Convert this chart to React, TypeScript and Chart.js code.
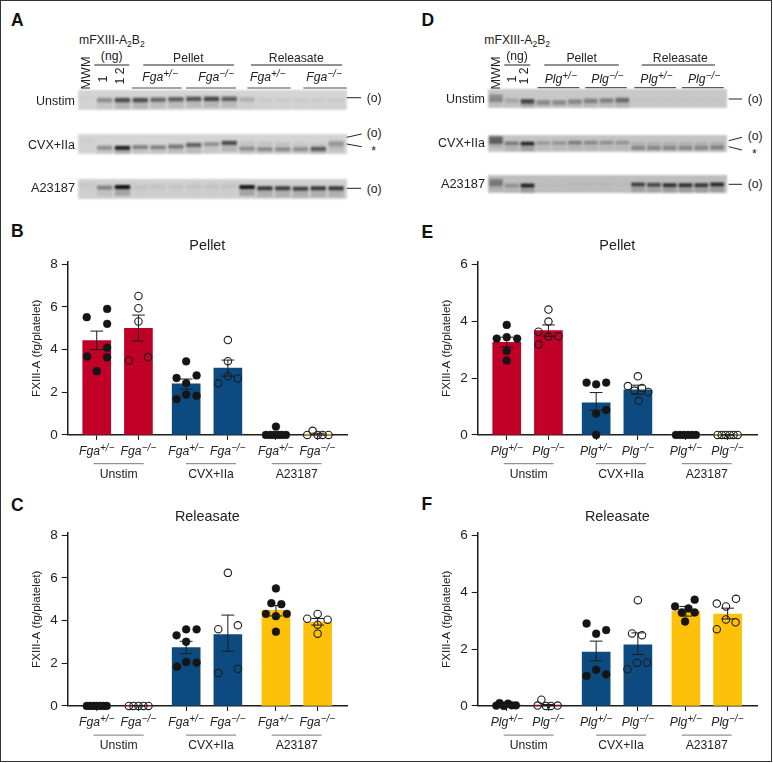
import React, { useEffect, useRef } from "react";
import { Chart, registerables } from "chart.js";

Chart.register(...registerables);

const FONT = "'Liberation Sans', Arial, sans-serif";
const RED = "#C00026";
const BLUE = "#0C4A80";
const YELLOW = "#FCC108";
const INK = "#1c1c1c";

/* ---------- bar panels ---------- */
const slots = [1, 2, 3.144, 4.144, 5.296, 6.296];
const groupLabels = ["Unstim", "CVX+IIa", "A23187"];

const bMeans = [4.43, 5.0, 2.39, 3.14, 0.06, 0.04];
const bLow = [4.0, 4.4, 2.14, 2.76, 0, 0];
const bHigh = [4.87, 5.62, 2.62, 3.51, 0.12, 0.08];
const bDots: number[][][] = [
  [[-0.24, 5.52], [0.25, 5.91], [0.25, 5.21], [0.25, 4.09], [-0.23, 3.68], [0.25, 3.64], [0, 2.99]],
  [[0, 6.52], [0, 5.94], [0, 5.32], [-0.23, 3.49], [0.23, 3.65]],
  [[0, 3.45], [-0.23, 2.67], [0.25, 2.79], [0, 2.43], [0, 1.89], [0.25, 1.84], [-0.23, 1.68]],
  [[0, 4.45], [0, 3.46], [-0.23, 2.42], [0, 2.75], [0.24, 2.65]],
  [[0, 0.39], [-0.24, 0], [-0.14, 0], [-0.05, 0], [0.05, 0], [0.14, 0], [0.24, 0]],
  [[-0.12, 0.19], [-0.25, 0], [0, 0], [0.12, 0], [0.26, 0]],
];

const cMeans = [0.02, 0.01, 2.73, 3.34, 4.48, 3.92];
const cLow = [0, 0, 2.45, 2.56, 4.22, 3.79];
const cHigh = [0.03, 0.02, 3.03, 4.26, 4.71, 4.1];
const cDots: number[][][] = [
  [[-0.24, 0], [-0.16, 0], [-0.08, 0], [0, 0], [0.08, 0], [0.16, 0], [0.24, 0]],
  [[-0.23, 0], [-0.12, 0], [0, 0], [0.12, 0], [0.24, 0]],
  [[0, 3.59], [0.25, 3.59], [-0.23, 3.31], [0, 3.01], [0, 2.06], [0.25, 2.03], [-0.22, 1.84]],
  [[0, 6.24], [-0.23, 3.6], [0.24, 3.78], [-0.23, 1.54], [0.24, 1.73]],
  [[0, 5.51], [-0.11, 4.82], [0.13, 4.77], [-0.24, 4.32], [0, 4.21], [0.26, 4.32], [0, 3.48]],
  [[0, 4.31], [-0.25, 4.09], [0.24, 4.04], [0, 3.81], [0, 3.39]],
];

const eMeans = [3.26, 3.67, 1.13, 1.59, 0.03, 0.02];
const eLow = [3.1, 3.47, 0.87, 1.43, 0, 0];
const eHigh = [3.44, 3.87, 1.49, 1.75, 0, 0];
const eDots: number[][][] = [
  [[0, 3.87], [-0.24, 3.39], [0, 3.44], [0.25, 3.39], [0, 2.96], [0, 2.62]],
  [[0, 4.41], [0, 3.99], [-0.24, 3.63], [0, 3.46], [0.24, 3.47], [-0.24, 3.18]],
  [[-0.23, 1.84], [0, 1.78], [0.24, 1.84], [0.24, 0.88], [0, 0.75], [0, 0]],
  [[0, 2.06], [-0.24, 1.72], [0.1, 1.65], [-0.08, 1.56], [0.25, 1.51], [0.02, 1.2]],
  [[-0.24, 0], [-0.14, 0], [-0.05, 0], [0.05, 0], [0.14, 0], [0.24, 0]],
  [[-0.24, 0], [-0.14, 0], [-0.05, 0], [0.05, 0], [0.14, 0], [0.24, 0]],
];

const fMeans = [0.03, 0.03, 1.89, 2.15, 3.33, 3.23];
const fLow = [0.01, 0.01, 1.59, 1.81, 3.16, 3.06];
const fHigh = [0.05, 0.05, 2.28, 2.57, 3.5, 3.44];
const fDots: number[][][] = [
  [[-0.25, 0.01], [-0.17, 0.1], [-0.07, 0], [0.03, 0.08], [0.12, 0.02], [0.22, 0.02]],
  [[-0.17, 0.22], [-0.26, 0.01], [-0.06, 0], [0.06, 0], [0.22, 0.01]],
  [[-0.23, 2.9], [0, 2.54], [0.24, 2.67], [-0.23, 1.06], [0, 1.27], [0.24, 1.11]],
  [[0, 3.72], [-0.14, 2.55], [0.1, 2.49], [-0.25, 1.29], [-0.02, 1.52], [0.22, 1.52]],
  [[-0.26, 3.5], [0.21, 3.74], [0.06, 3.43], [-0.1, 3.29], [0.21, 3.29], [-0.02, 2.97]],
  [[-0.26, 3.6], [0.2, 3.77], [-0.04, 3.5], [-0.04, 3.04], [0.19, 2.94], [-0.26, 2.7]],
];

/* ---------- blots: relative band darkness per lane ---------- */
const lanes = ["MWM", "1", "12", "p1", "p2", "p3", "p4", "p5", "p6", "r1", "r2", "r3", "r4", "r5", "r6"];

const aUnstimDark = [0.02, 0.32, 0.66, 0.66, 0.5, 0.55, 0.6, 0.68, 0.56, 0.16, 0.04, 0.04, 0.04, 0.04, 0.04];
const aUnstimPos = [0.4, 0.5, 0.5, 0.5, 0.48, 0.46, 0.44, 0.44, 0.44, 0.46, 0.5, 0.5, 0.5, 0.5, 0.5];
const aCvxDark = [0.03, 0.32, 0.9, 0.38, 0.38, 0.44, 0.56, 0.3, 0.68, 0.08, 0.08, 0.08, 0.06, 0.06, 0.24];
const aCvxPos = [0.35, 0.68, 0.69, 0.65, 0.66, 0.62, 0.54, 0.5, 0.44, 0.46, 0.48, 0.5, 0.52, 0.54, 0.44];
const aCvxLowDark = [0, 0, 0, 0, 0, 0, 0, 0, 0, 0.32, 0.32, 0.32, 0.3, 0.58, 0.14];
const aCvxLowPos = [0.7, 0.7, 0.7, 0.7, 0.7, 0.7, 0.7, 0.7, 0.7, 0.72, 0.75, 0.75, 0.75, 0.74, 0.58];
const aIonoDark = [0.04, 0.38, 0.98, 0.06, 0.06, 0.06, 0.06, 0.06, 0.06, 0.95, 0.76, 0.72, 0.72, 0.76, 0.76];
const aIonoPos = [0.3, 0.42, 0.4, 0.4, 0.38, 0.38, 0.36, 0.36, 0.36, 0.4, 0.46, 0.46, 0.48, 0.46, 0.46];

const dUnstimDark = [0, 0.16, 0.68, 0.3, 0.3, 0.32, 0.35, 0.35, 0.48, 0.02, 0.02, 0.02, 0.02, 0.02, 0.02];
const dUnstimPos = [0.48, 0.6, 0.65, 0.7, 0.7, 0.66, 0.62, 0.6, 0.58, 0.6, 0.6, 0.6, 0.6, 0.6, 0.6];
const dCvxDark = [0, 0.4, 0.9, 0.22, 0.25, 0.38, 0.32, 0.28, 0.26, 0.1, 0.1, 0.1, 0.1, 0.1, 0.1];
const dCvxPos = [0.3, 0.48, 0.5, 0.46, 0.46, 0.44, 0.44, 0.44, 0.44, 0.5, 0.5, 0.5, 0.5, 0.5, 0.5];
const dCvxLowDark = [0, 0, 0, 0, 0, 0, 0, 0, 0, 0.32, 0.32, 0.32, 0.32, 0.32, 0.36];
const dCvxLowPos = [0.74, 0.74, 0.74, 0.74, 0.74, 0.74, 0.74, 0.74, 0.74, 0.74, 0.74, 0.74, 0.74, 0.74, 0.72];
const dIonoDark = [0, 0.25, 0.9, 0.02, 0.02, 0.03, 0.03, 0.03, 0.02, 0.72, 0.68, 0.82, 0.82, 0.78, 0.88];
const dIonoPos = [0.42, 0.58, 0.58, 0.5, 0.5, 0.5, 0.5, 0.5, 0.5, 0.52, 0.54, 0.56, 0.56, 0.56, 0.52];
const dMarkerUnstimDark = [0.3, 0, 0, 0, 0, 0, 0, 0, 0, 0, 0, 0, 0, 0, 0];
const dMarkerCvxDark = [0.52, 0, 0, 0, 0, 0, 0, 0, 0, 0, 0, 0, 0, 0, 0];
const dMarkerIonoDark = [0.36, 0, 0, 0, 0, 0, 0, 0, 0, 0, 0, 0, 0, 0, 0];

/* ---------- helpers ---------- */
function ChartCanvas({ config, left, top, width, height, style }: any) {
  const ref = useRef<HTMLCanvasElement | null>(null);
  useEffect(() => {
    const c = new Chart(ref.current as HTMLCanvasElement, config);
    return () => c.destroy();
  }, []);
  return (
    <canvas
      ref={ref}
      width={width}
      height={height}
      style={{ position: "absolute", left, top, width, height, display: "block", ...style }}
    />
  );
}

function barPanelConfig(o: any) {
  const points = (open: boolean) =>
    o.dots.flatMap((list: number[][], i: number) =>
      i % 2 === (open ? 1 : 0) ? list.map(([dx, y]) => ({ x: slots[i] + dx, y })) : []
    );
  const errorPlugin = {
    id: "errorBars",
    afterDatasetsDraw(chart: any) {
      const { ctx, scales } = chart;
      ctx.save();
      ctx.strokeStyle = INK;
      ctx.lineWidth = 1;
      slots.forEach((s, i) => {
        const x = scales.x.getPixelForValue(s);
        const a = scales.y.getPixelForValue(o.low[i]);
        const b = scales.y.getPixelForValue(o.high[i]);
        ctx.beginPath();
        ctx.moveTo(x, a);
        ctx.lineTo(x, b);
        ctx.moveTo(x - 6.4, a);
        ctx.lineTo(x + 6.4, a);
        ctx.moveTo(x - 6.4, b);
        ctx.lineTo(x + 6.4, b);
        ctx.stroke();
      });
      ctx.restore();
    },
  };
  return {
    type: "bar",
    plugins: [errorPlugin],
    data: {
      datasets: [
        {
          type: "bar",
          data: slots.map((x, i) => ({ x, y: o.means[i] })),
          backgroundColor: o.colors,
          barThickness: 28,
          order: 3,
        },
        {
          type: "scatter",
          data: points(false),
          pointRadius: 3.9,
          pointBackgroundColor: "#151515",
          pointBorderColor: "#151515",
          pointBorderWidth: 0.5,
          clip: false,
          order: 2,
        },
        {
          type: "scatter",
          data: points(true),
          pointRadius: 3.7,
          pointBackgroundColor: "rgba(255,255,255,0)",
          pointBorderColor: INK,
          pointBorderWidth: 1.1,
          clip: false,
          order: 1,
        },
      ],
    },
    options: {
      animation: false,
      responsive: false,
      maintainAspectRatio: false,
      events: [],
      layout: { padding: { left: 0, right: 10, top: 0, bottom: 0 } },
      plugins: {
        legend: { display: false },
        tooltip: { enabled: false },
        title: {
          display: true,
          text: o.title,
          fullSize: false,
          color: "#222",
          font: { family: FONT, size: 14.4, weight: "normal", lineHeight: 1.2 },
          padding: { top: 2.5, bottom: 6.8 },
        },
      },
      scales: {
        x: {
          type: "linear",
          min: 0.304,
          max: 7,
          offset: false,
          afterFit: (s: any) => {
            s.height = 9.7;
          },
          afterBuildTicks: (s: any) => {
            s.ticks = slots.map((value) => ({ value }));
          },
          ticks: { autoSkip: false, callback: () => "", maxRotation: 0 },
          grid: {
            offset: false,
            drawOnChartArea: false,
            tickLength: 5,
            tickWidth: 1.1,
            tickColor: INK,
          },
          border: { color: INK, width: 1.5 },
        },
        y: {
          type: "linear",
          min: 0,
          max: o.max,
          afterFit: (s: any) => {
            s.width = 45.7;
          },
          ticks: {
            stepSize: 2,
            includeBounds: false,
            color: "#222",
            padding: 4,
            font: { family: FONT, size: 13.5 },
          },
          title: {
            display: true,
            text: "FXIII-A (fg/platelet)",
            color: "#222",
            padding: { top: 8.6, bottom: 0 },
            font: { family: FONT, size: 11.6, lineHeight: 1.1 },
          },
          grid: { drawOnChartArea: false, tickLength: 6, tickWidth: 1.1, tickColor: INK },
          border: { color: INK, width: 1.5 },
        },
      },
    },
  };
}

function stripConfig(rows: { dark: number[]; pos: number[]; thick?: number }[]) {
  const datasets: any[] = [];
  rows.forEach((r) => {
    const thick = r.thick ?? 0.1;
    datasets.push({
      data: r.pos.map((p) => [p, p + 0.45]),
      backgroundColor: r.dark.map((d) => `rgba(30,30,30,${d * 0.25})`),
      barPercentage: 0.86,
      categoryPercentage: 1,
    });
    datasets.push({
      data: r.pos.map((p) => [p - thick, p + thick]),
      backgroundColor: r.dark.map((d) => `rgba(10,10,10,${d})`),
      barPercentage: 0.86,
      categoryPercentage: 1,
    });
  });
  return {
    type: "bar",
    data: { labels: lanes, datasets },
    options: {
      animation: false,
      responsive: false,
      maintainAspectRatio: false,
      events: [],
      grouped: false,
      layout: { padding: { left: 0, right: 2, top: 0, bottom: 0 } },
      plugins: { legend: { display: false }, tooltip: { enabled: false } },
      scales: {
        x: { type: "category", display: false },
        y: { type: "linear", display: false, min: 0, max: 1, reverse: true },
      },
    },
  };
}

const T = ({ x, y, size = 12.2, anchor = "center", rot = 0, weight, children, color }: any) => {
  const tx = anchor === "center" ? "-50%" : anchor === "right" ? "-100%" : "0";
  return (
    <div
      style={{
        position: "absolute",
        left: x,
        top: y,
        fontSize: size,
        lineHeight: 1,
        whiteSpace: "nowrap",
        color: color || "#222",
        fontWeight: weight || "normal",
        transform: `translate(${tx},-50%)` + (rot ? ` rotate(${rot}deg)` : ""),
      }}
    >
      {children}
    </div>
  );
};

const Geno = ({ name, sup }: { name: string; sup: string }) => (
  <span style={{ fontStyle: "italic" }}>
    {name}
    <span style={{ fontSize: "0.82em", position: "relative", top: "-0.42em" }}>{sup}</span>
  </span>
);

const Sub = ({ children }: any) => (
  <span style={{ fontSize: "0.7em", position: "relative", top: "0.3em" }}>{children}</span>
);

const L = ({ x1, y1, x2, y2, c = "#222", w = 1 }: any) => <line x1={x1} y1={y1} x2={x2} y2={y2} stroke={c} strokeWidth={w} />;

const HET = "+/\u2212";
const KO = "\u2212/\u2212";

function BarPanel({ dx, dy, name, o }: any) {
  const labelX = [96.7, 138.3, 186, 227.7, 275.7, 317.3];
  const groupX = [118.7, 211, 296.7];
  return (
    <>
      <ChartCanvas config={barPanelConfig(o)} left={22 + dx} top={235 + dy} width={335} height={212} />
      {labelX.map((x, i) => (
        <T key={i} x={x + dx} y={451 + dy}>
          <Geno name={name} sup={i % 2 ? KO : HET} />
        </T>
      ))}
      {groupX.map((x, i) => (
        <T key={i} x={x + dx} y={473.5 + dy}>
          {groupLabels[i]}
        </T>
      ))}
      <svg style={{ position: "absolute", left: 0, top: 0, pointerEvents: "none" }} width={773} height={763}>
        {groupX.map((x, i) => (
          <L key={i} x1={x - 25 + dx} x2={x + 25 + dx} y1={463.7 + dy} y2={463.7 + dy} c="#777" />
        ))}
      </svg>
    </>
  );
}

const blur = { filter: "blur(1.1px)" };

export default function App() {
  useEffect(() => {
    document.body.style.margin = "0";
  }, []);
  const pelletColors = [RED, RED, BLUE, BLUE, YELLOW, YELLOW];
  const relColors = [RED, RED, BLUE, BLUE, YELLOW, YELLOW];
  return (
    <div
      style={{
        position: "fixed",
        left: 0,
        top: 0,
        width: 773,
        height: 763,
        background: "#fff",
        fontFamily: FONT,
        overflow: "hidden",
      }}
    >
      <div style={{ position: "absolute", left: 0, top: 0, width: 772, height: 762, boxSizing: "border-box", border: "1px solid #333" }} />

      {/* letters */}
      {[
        ["A", 11, 21],
        ["B", 11, 232],
        ["C", 11, 506],
        ["D", 421.5, 21],
        ["E", 421.5, 232.5],
        ["F", 421.5, 505],
      ].map(([c, x, y]: any) => (
        <T key={c} x={x} y={y} anchor="left" size={17.5} weight="bold" color="#111">
          {c}
        </T>
      ))}

      {/* blots A */}
      <ChartCanvas config={stripConfig([{ dark: aUnstimDark, pos: aUnstimPos, thick: 0.11 }])} left={78} top={90} width={269} height={20} style={{ ...blur, background: "#d4d4d4" }} />
      <ChartCanvas config={stripConfig([{ dark: aCvxDark, pos: aCvxPos }, { dark: aCvxLowDark, pos: aCvxLowPos }])} left={78} top={134} width={269} height={20} style={{ ...blur, background: "#d4d4d4" }} />
      <ChartCanvas config={stripConfig([{ dark: aIonoDark, pos: aIonoPos }])} left={78} top={179} width={269} height={20} style={{ ...blur, background: "#d0d0d0" }} />

      {/* blots D */}
      <ChartCanvas config={stripConfig([{ dark: dUnstimDark, pos: dUnstimPos, thick: 0.12 }, { dark: dMarkerUnstimDark, pos: dUnstimPos, thick: 0.2 }])} left={488} top={89} width={239} height={19} style={{ ...blur, background: "#c8c8c8" }} />
      <ChartCanvas config={stripConfig([{ dark: dCvxDark, pos: dCvxPos }, { dark: dCvxLowDark, pos: dCvxLowPos }, { dark: dMarkerCvxDark, pos: dCvxPos, thick: 0.22 }])} left={488} top={135} width={239} height={17} style={{ ...blur, background: "#c4c4c4" }} />
      <ChartCanvas config={stripConfig([{ dark: dIonoDark, pos: dIonoPos }, { dark: dMarkerIonoDark, pos: dIonoPos, thick: 0.2 }])} left={488} top={175} width={239} height={18} style={{ ...blur, background: "#bebebe" }} />

      {/* panel A annotation */}
      <T x={79} y={40} anchor="left">mFXIII-A<Sub>2</Sub>B<Sub>2</Sub></T>
      <T x={111.7} y={55.7}>(ng)</T>
      <T x={86} y={73} rot={-90} size={12.6}>MWM</T>
      <T x={102.7} y={79} rot={-90}>1</T>
      <T x={120} y={76} rot={-90}>1 2</T>
      <T x={188.3} y={57.7}>Pellet</T>
      <T x={296.3} y={57.7}>Releasate</T>
      {[160, 216, 267.7, 324].map((x, i) => (
        <T key={i} x={x} y={77.3}><Geno name="Fga" sup={i % 2 ? KO : HET} /></T>
      ))}
      <T x={75} y={100.7} anchor="right" size={12.5}>Unstim</T>
      <T x={75} y={145.3} anchor="right" size={12.5}>CVX+IIa</T>
      <T x={75} y={188.3} anchor="right" size={12.8}>A23187</T>
      <T x={366.7} y={97.7} anchor="left">(o)</T>
      <T x={366.7} y={133.3} anchor="left">(o)</T>
      <T x={366.7} y={189} anchor="left">(o)</T>
      <T x={373.7} y={150.5}>*</T>

      {/* panel D annotation */}
      <T x={484.3} y={40} anchor="left">mFXIII-A<Sub>2</Sub>B<Sub>2</Sub></T>
      <T x={517} y={55.7}>(ng)</T>
      <T x={496} y={73} rot={-90} size={12.6}>MWM</T>
      <T x={512} y={79.3} rot={-90}>1</T>
      <T x={524.3} y={76} rot={-90}>1 2</T>
      <T x={581.7} y={57.7}>Pellet</T>
      <T x={680.3} y={57.7}>Releasate</T>
      {[560.7, 607.3, 656.3, 704].map((x, i) => (
        <T key={i} x={x} y={79}><Geno name="Plg" sup={i % 2 ? KO : HET} /></T>
      ))}
      <T x={485} y={99} anchor="right" size={12.5}>Unstim</T>
      <T x={485} y={143.3} anchor="right" size={12.5}>CVX+IIa</T>
      <T x={485} y={184} anchor="right" size={12.8}>A23187</T>
      <T x={747.7} y={98.7} anchor="left">(o)</T>
      <T x={747.7} y={136} anchor="left">(o)</T>
      <T x={747.7} y={184} anchor="left">(o)</T>
      <T x={754.3} y={153.5}>*</T>

      <svg style={{ position: "absolute", left: 0, top: 0, pointerEvents: "none" }} width={773} height={763}>
        <L x1={94.3} x2={129.3} y1={65} y2={65} />
        <L x1={143.3} x2={234} y1={65} y2={65} />
        <L x1={251} x2={342} y1={65} y2={65} />
        <L x1={131.7} x2={181.7} y1={88} y2={88} c="#888" w={1.4} />
        <L x1={186} x2={236} y1={88} y2={88} c="#888" w={1.4} />
        <L x1={247.3} x2={290.7} y1={88} y2={88} c="#888" w={1.4} />
        <L x1={303.3} x2={346.7} y1={88} y2={88} c="#888" w={1.4} />
        <L x1={346.7} x2={361} y1={97.7} y2={97.7} />
        <L x1={346.7} x2={361.7} y1={137.3} y2={134} />
        <L x1={346.7} x2={361.7} y1={144} y2={146.7} />
        <L x1={346.7} x2={361} y1={188.3} y2={188.3} />

        <L x1={504.3} x2={530.3} y1={65} y2={65} />
        <L x1={544.3} x2={618.7} y1={65} y2={65} />
        <L x1={641.7} x2={715} y1={65} y2={65} />
        <L x1={537.7} x2={579.3} y1={87.7} y2={87.7} c="#333" />
        <L x1={585.3} x2={626.7} y1={87.7} y2={87.7} c="#333" />
        <L x1={634.3} x2={676} y1={87.7} y2={87.7} c="#333" />
        <L x1={682} x2={723.7} y1={87.7} y2={87.7} c="#333" />
        <L x1={728.7} x2={742} y1={99} y2={99} />
        <L x1={728.7} x2={742} y1={140.7} y2={137.3} />
        <L x1={728.7} x2={742} y1={146.7} y2={150} />
        <L x1={728.7} x2={742} y1={184.3} y2={184.3} />
      </svg>

      <BarPanel dx={0} dy={0} name="Fga" o={{ title: "Pellet", max: 8.13, means: bMeans, low: bLow, high: bHigh, dots: bDots, colors: pelletColors }} />
      <BarPanel dx={0} dy={271.4} name="Fga" o={{ title: "Releasate", max: 8.13, means: cMeans, low: cLow, high: cHigh, dots: cDots, colors: relColors }} />
      <BarPanel dx={410} dy={0} name="Plg" o={{ title: "Pellet", max: 6.1, means: eMeans, low: eLow, high: eHigh, dots: eDots, colors: pelletColors }} />
      <BarPanel dx={410} dy={271.4} name="Plg" o={{ title: "Releasate", max: 6.1, means: fMeans, low: fLow, high: fHigh, dots: fDots, colors: relColors }} />
    </div>
  );
}
